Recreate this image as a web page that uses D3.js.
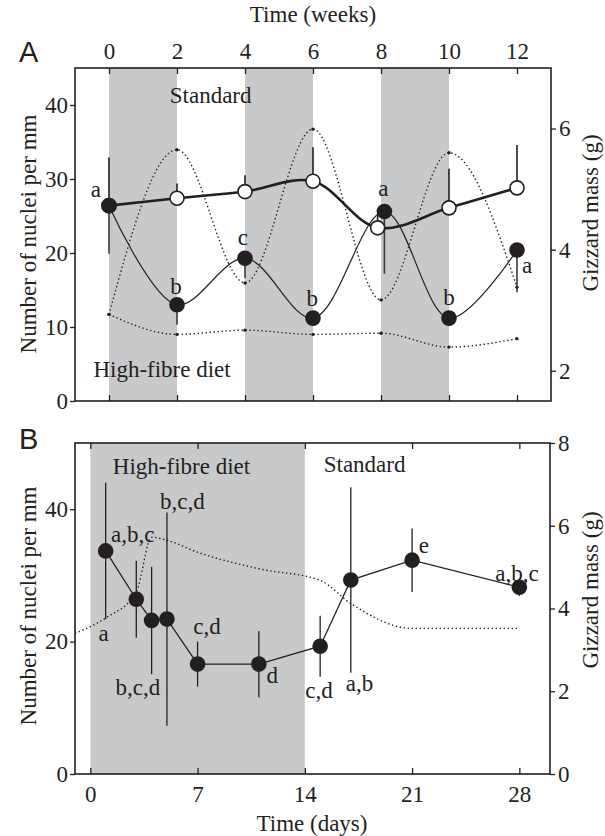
<!DOCTYPE html>
<html>
<head>
<meta charset="utf-8">
<script src="https://cdn.jsdelivr.net/npm/d3@7"></script>
<style>
    body{margin:0;background:#fff;}
    svg text{font-family:"Liberation Serif","Times New Roman",serif;fill:#231f20;}
    svg text.tag{font-family:"Liberation Sans",Arial,sans-serif;}
</style>
</head>
<body>
<svg id="chart" width="605" height="836"></svg>
<script>
// ---- panel A (weeks) ----
var ticksWeeks = [0, 2, 4, 6, 8, 10, 12];
var ticksNucleiA = [0, 10, 20, 30, 40];
var ticksGizzardA = [2, 4, 6];
var fibreBlocksA = [[0, 2], [4, 6], [8, 10]];

// filled circles, thin line
var altWeeks = [0, 2, 4, 6, 8.1, 10, 12];
var altNuclei = [26.4, 13.0, 19.3, 11.2, 25.6, 11.2, 20.4];
var altErrDown = [6.5, 2.7, 2.7, 0, 8.4, 1.0, 5.7];
// open circles, thick line
var stdWeeks = [0, 2, 4, 6, 7.9, 10, 12];
var stdNuclei = [26.4, 27.4, 28.3, 29.7, 23.4, 26.1, 28.8];
var stdErrUp = [6.5, 2.0, 2.2, 4.6, 1.7, 5.3, 5.8];
// gizzard mass (dotted)
var altGizzard = [2.93, 5.65, 3.45, 5.99, 3.17, 5.60, 3.38];
var stdGizzard = [2.93, 2.60, 2.67, 2.60, 2.62, 2.39, 2.53];

var lettersA = ['a', 'b', 'c', 'b', 'a', 'b', 'a'];
var letterWeekA = [-0.39, 1.97, 3.94, 5.98, 8.07, 10.0, 12.3];
var letterNucleiA = [27.6, 14.5, 21.1, 12.9, 27.7, 13.0, 17.3];

// ---- panel B (days) ----
var ticksDays = [0, 7, 14, 21, 28];
var ticksNucleiB = [0, 20, 40];
var ticksGizzardB = [0, 2, 4, 6, 8];
var fibreBlockB = [0, 14];

var daysB = [1, 3, 4, 5, 7, 11, 15, 17, 21, 28];
var nucleiB = [33.7, 26.4, 23.2, 23.4, 16.6, 16.6, 19.3, 29.3, 32.3, 28.2];
var errB = [10.3, 5.8, 8.1, 16.1, 3.4, 5.0, 4.6, 14.0, 4.8, 1.3];
var gizzardDaysB = [-1, 1, 3, 4, 5, 7, 11, 15, 17, 21, 28];
var gizzardB = [3.40, 3.77, 4.40, 5.72, 5.65, 5.36, 4.96, 4.68, 4.12, 3.52, 3.52];

var lettersB = ['a', 'a,b,c', 'b,c,d', 'b,c,d', 'c,d', 'd', 'c,d', 'a,b', 'e', 'a,b,c'];
var letterDayB = [0.87, 2.77, 3.1, 6.01, 7.62, 11.87, 14.92, 17.57, 21.76, 27.85];
var letterNucleiB = [20.1, 35.0, 12.0, 40.1, 21.2, 13.7, 11.5, 12.5, 33.4, 29.2];

(function(){
    'use strict';
    var ink = '#231f20';
    var shade = '#c8c9cb';
    var fs = 23;
    var svg = d3.select('#chart');

    function zip(xs, ys){
        return xs.map(function(x, i){ return [x, ys[i]]; });
    }

    function styleAxis(g){
        g.select('.domain').remove();
        g.selectAll('line').attr('stroke', ink).attr('stroke-width', 1.3);
        g.selectAll('text').attr('font-size', fs).attr('fill', ink);
        g.attr('font-family', null).attr('font-size', null);
    }

    function frame(x, y){
        var r = x.range(), d = y.range();
        svg.append('rect')
            .attr('x', r[0]).attr('y', d[1])
            .attr('width', r[1] - r[0]).attr('height', d[0] - d[1])
            .attr('fill', 'none').attr('stroke', ink).attr('stroke-width', 1.6);
    }

    function dotted(pts, x, y, withDots){
        var line = d3.line().curve(d3.curveMonotoneX)
            .x(function(d){ return x(d[0]); })
            .y(function(d){ return y(d[1]); });
        svg.append('path').datum(pts)
            .attr('d', line).attr('fill', 'none')
            .attr('stroke', ink).attr('stroke-width', 1.4)
            .attr('stroke-dasharray', '1.4,2.6');
        if(withDots){
            svg.append('g').selectAll('circle').data(pts).enter()
                .append('circle')
                .attr('cx', function(d){ return x(d[0]); })
                .attr('cy', function(d){ return y(d[1]); })
                .attr('r', 1.7).attr('fill', ink);
        }
    }

    function letters(txt, xs, ys, x, y){
        svg.append('g').selectAll('text').data(txt).enter()
            .append('text')
            .attr('x', function(d, i){ return x(xs[i]); })
            .attr('y', function(d, i){ return y(ys[i]); })
            .attr('text-anchor', 'middle')
            .attr('font-size', fs)
            .text(function(d){ return d; });
    }

    function makePanelA(){
        var x = d3.scaleLinear().domain([-1, 13]).range([75, 551]);
        var y = d3.scaleLinear().domain([0, 45]).range([401, 68]);
        var g = d3.scaleLinear().domain([1.5, 7]).range([401, 68]);

        svg.append('g').selectAll('rect').data(fibreBlocksA).enter()
            .append('rect')
            .attr('x', function(d){ return x(d[0]); })
            .attr('y', y.range()[1])
            .attr('width', function(d){ return x(d[1]) - x(d[0]); })
            .attr('height', y.range()[0] - y.range()[1])
            .attr('fill', shade);

        dotted(zip(ticksWeeks, altGizzard), x, g, true);
        dotted(zip(ticksWeeks, stdGizzard), x, g, true);

        // error bars
        svg.append('g').selectAll('line').data(altWeeks).enter()
            .append('line')
            .attr('x1', function(d){ return x(d); }).attr('x2', function(d){ return x(d); })
            .attr('y1', function(d, i){ return y(altNuclei[i]); })
            .attr('y2', function(d, i){ return y(altNuclei[i] - altErrDown[i]); })
            .attr('stroke', '#3a3a3a').attr('stroke-width', 1.6);
        svg.append('g').selectAll('line').data(stdWeeks).enter()
            .append('line')
            .attr('x1', function(d){ return x(d); }).attr('x2', function(d){ return x(d); })
            .attr('y1', function(d, i){ return y(stdNuclei[i]); })
            .attr('y2', function(d, i){ return y(stdNuclei[i] + stdErrUp[i]); })
            .attr('stroke', ink).attr('stroke-width', 1.6);

        var smooth = d3.line().curve(d3.curveCatmullRom)
            .x(function(d){ return x(d[0]); })
            .y(function(d){ return y(d[1]); });
        svg.append('path').datum(zip(altWeeks, altNuclei))
            .attr('d', smooth).attr('fill', 'none')
            .attr('stroke', ink).attr('stroke-width', 1.2);
        svg.append('path').datum(zip(stdWeeks, stdNuclei))
            .attr('d', smooth).attr('fill', 'none')
            .attr('stroke', ink).attr('stroke-width', 2.6);

        svg.append('g').selectAll('circle').data(zip(stdWeeks, stdNuclei)).enter()
            .append('circle')
            .attr('cx', function(d){ return x(d[0]); })
            .attr('cy', function(d){ return y(d[1]); })
            .attr('r', 7).attr('fill', '#fff')
            .attr('stroke', ink).attr('stroke-width', 1.6);
        svg.append('g').selectAll('circle').data(zip(altWeeks, altNuclei)).enter()
            .append('circle')
            .attr('cx', function(d){ return x(d[0]); })
            .attr('cy', function(d){ return y(d[1]); })
            .attr('r', 7.8).attr('fill', ink);

        letters(lettersA, letterWeekA, letterNucleiA, x, y);
        letters(['Standard'], [2.99], [40.3], x, y);
        letters(['High-fibre diet'], [1.56], [3.2], x, y);

        frame(x, y);

        svg.append('g').attr('transform', 'translate(0,68)')
            .call(d3.axisTop(x).tickValues(ticksWeeks).tickSize(-6).tickPadding(9))
            .call(styleAxis);
        svg.append('g').attr('transform', 'translate(0,401)')
            .call(d3.axisBottom(x).tickValues(ticksWeeks).tickSize(-6).tickFormat(''))
            .call(styleAxis);
        svg.append('g').attr('transform', 'translate(75,0)')
            .call(d3.axisLeft(y).tickValues(ticksNucleiA).tickSize(5).tickPadding(2))
            .call(styleAxis);
        svg.append('g').attr('transform', 'translate(551,0)')
            .call(d3.axisRight(g).tickValues(ticksGizzardA).tickFormat(d3.format('d')).tickSize(5).tickPadding(3))
            .call(styleAxis);

        svg.append('text').attr('x', 313).attr('y', 22)
            .attr('text-anchor', 'middle').attr('font-size', fs).text('Time (weeks)');
        svg.append('text').attr('class', 'tag').attr('x', 19).attr('y', 62)
            .attr('font-size', 29).text('A');
        svg.append('text').attr('transform', 'translate(36,234) rotate(-90)')
            .attr('text-anchor', 'middle').attr('font-size', fs).text('Number of nuclei per mm');
        svg.append('text').attr('transform', 'translate(598,213) rotate(-90)')
            .attr('text-anchor', 'middle').attr('font-size', fs).text('Gizzard mass (g)');
    }

    function makePanelB(){
        var x = d3.scaleLinear().domain([-1, 30]).range([75, 550]);
        var y = d3.scaleLinear().domain([0, 50]).range([774, 443]);
        var g = d3.scaleLinear().domain([0, 8]).range([774, 443]);

        svg.append('rect')
            .attr('x', x(fibreBlockB[0])).attr('y', 443)
            .attr('width', x(fibreBlockB[1]) - x(fibreBlockB[0]))
            .attr('height', 774 - 443)
            .attr('fill', shade);

        dotted(zip(gizzardDaysB, gizzardB), x, g, false);

        svg.append('g').selectAll('line').data(daysB).enter()
            .append('line')
            .attr('x1', function(d){ return x(d); }).attr('x2', function(d){ return x(d); })
            .attr('y1', function(d, i){ return y(nucleiB[i] + errB[i]); })
            .attr('y2', function(d, i){ return y(nucleiB[i] - errB[i]); })
            .attr('stroke', ink).attr('stroke-width', 1.3);

        var line = d3.line()
            .x(function(d){ return x(d[0]); })
            .y(function(d){ return y(d[1]); });
        svg.append('path').datum(zip(daysB, nucleiB))
            .attr('d', line).attr('fill', 'none')
            .attr('stroke', ink).attr('stroke-width', 1.3);

        svg.append('g').selectAll('circle').data(zip(daysB, nucleiB)).enter()
            .append('circle')
            .attr('cx', function(d){ return x(d[0]); })
            .attr('cy', function(d){ return y(d[1]); })
            .attr('r', 7.8).attr('fill', ink);

        letters(lettersB, letterDayB, letterNucleiB, x, y);
        letters(['High-fibre diet'], [5.95], [45.3], x, y);
        letters(['Standard'], [17.9], [45.6], x, y);

        frame(x, y);

        svg.append('g').attr('transform', 'translate(0,774)')
            .call(d3.axisBottom(x).tickValues(ticksDays).tickSize(-6).tickPadding(12))
            .call(styleAxis);
        svg.append('g').attr('transform', 'translate(0,443)')
            .call(d3.axisTop(x).tickValues(ticksDays).tickSize(-6).tickFormat(''))
            .call(styleAxis);
        svg.append('g').attr('transform', 'translate(75,0)')
            .call(d3.axisLeft(y).tickValues(ticksNucleiB).tickSize(5).tickPadding(2))
            .call(styleAxis);
        svg.append('g').attr('transform', 'translate(550,0)')
            .call(d3.axisRight(g).tickValues(ticksGizzardB).tickFormat(d3.format('d')).tickSize(5).tickPadding(3))
            .call(styleAxis);

        svg.append('text').attr('x', 312).attr('y', 831)
            .attr('text-anchor', 'middle').attr('font-size', fs).text('Time (days)');
        svg.append('text').attr('class', 'tag').attr('x', 19).attr('y', 449)
            .attr('font-size', 29).text('B');
        svg.append('text').attr('transform', 'translate(36,606) rotate(-90)')
            .attr('text-anchor', 'middle').attr('font-size', fs).text('Number of nuclei per mm');
        svg.append('text').attr('transform', 'translate(598,590) rotate(-90)')
            .attr('text-anchor', 'middle').attr('font-size', fs).text('Gizzard mass (g)');
    }

    makePanelA();
    makePanelB();
}());
</script>
</body>
</html>
